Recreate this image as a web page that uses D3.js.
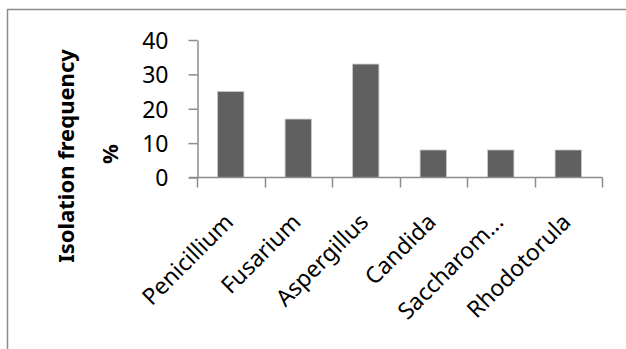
<!DOCTYPE html>
<html><head><meta charset="utf-8">
<script src="https://cdn.jsdelivr.net/npm/d3@7"></script>
<style>body{margin:0;background:#fff}svg{display:block}</style>
</head><body>
<script>
const categories = ["Penicillium","Fusarium","Aspergillus","Candida","Saccharom...","Rhodotorula"];
const values = [25,17,33,8,8,8];
const yTicks = [0,10,20,30,40];
const yTitle = ["Isolation  frequency","%"];

const W=626,H=349;
const svg=d3.select("body").append("svg").attr("width",W).attr("height",H);
svg.append("rect").attr("width",W).attr("height",H).attr("fill","#fff");
// border (only top & left visible)
svg.append("path").attr("d",`M7.5,${H} V9.5 H${W}`).attr("fill","none").attr("stroke","#8c8c8c").attr("stroke-width",1.5);

const x=d3.scaleBand().domain(categories).range([197,602]).paddingInner(0.61).paddingOuter(0.305);
const y=d3.scaleLinear().domain([0,40]).range([177.5,40]);
const font="'Noto Sans', 'Open Sans', sans-serif";

// bars
svg.append("g").selectAll("rect").data(values).join("rect")
 .attr("x",(d,i)=>x(categories[i])).attr("width",x.bandwidth())
 .attr("y",d=>y(d)).attr("height",d=>y(0)-y(d))
 .attr("fill","#606060").attr("stroke","#c8c8c8").attr("stroke-width",0.8);

// y axis
const ya=svg.append("g").attr("transform","translate(197.5,0)")
 .call(d3.axisLeft(y).tickValues(yTicks).tickSize(9).tickPadding(20).tickSizeOuter(0));
ya.select(".domain").attr("stroke","#8c8c8c").attr("stroke-width",1.5);
ya.selectAll(".tick line").attr("stroke","#8c8c8c").attr("stroke-width",1.5);
ya.selectAll("text").attr("font-family",font).attr("font-size",23).attr("fill","#000").attr("dy","0.36em");

// x axis
const xa=svg.append("g").attr("transform",`translate(0,${y(0)})`);
xa.append("line").attr("x1",189).attr("x2",602.5).attr("stroke","#8c8c8c").attr("stroke-width",1.5);
const edges=categories.map(c=>x(c)-x.step()*x.paddingInner()/2).concat([602]);
xa.selectAll("line.t").data(edges).join("line").attr("class","t")
 .attr("x1",d=>Math.round(d)+0.5).attr("x2",d=>Math.round(d)+0.5).attr("y1",0).attr("y2",10)
 .attr("stroke","#8c8c8c").attr("stroke-width",1.5);
xa.selectAll("text").data(categories).join("text")
 .attr("transform",d=>`translate(${x(d)+x.bandwidth()/2+4},${46}) rotate(-45)`)
 .attr("text-anchor","end").attr("font-family",font).attr("font-size",23).attr("fill","#000")
 .text(d=>d);

// y title
svg.append("text").attr("transform","translate(66,156) rotate(-90)")
 .attr("text-anchor","middle").attr("dy","0.35em").attr("font-family",font).attr("font-weight","bold")
 .attr("font-size",22).attr("fill","#000").text(yTitle[0]);
svg.append("text").attr("transform","translate(110,154) rotate(-90)")
 .attr("text-anchor","middle").attr("dy","0.35em").attr("font-family",font).attr("font-weight","bold")
 .attr("font-size",22).attr("fill","#000").text(yTitle[1]);
</script>
</body></html>
